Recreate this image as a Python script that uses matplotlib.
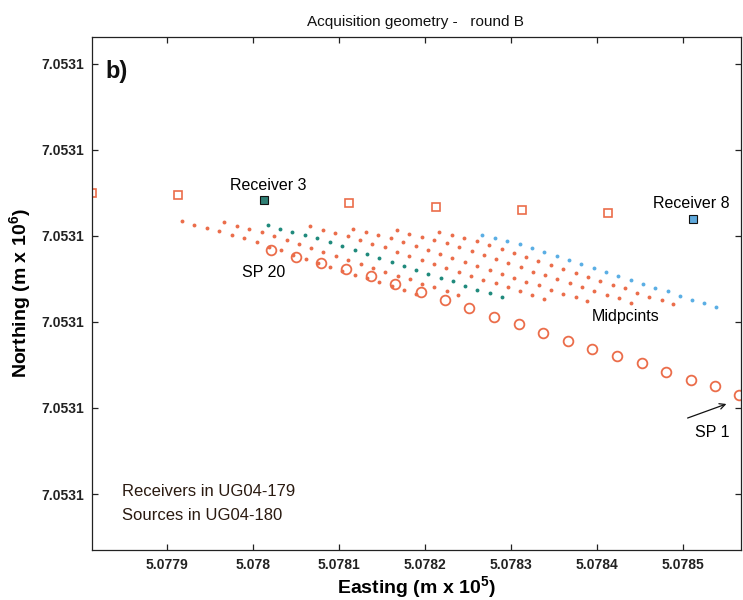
import matplotlib
matplotlib.use("Agg")
import matplotlib.pyplot as plt
import numpy as np

plt.rcParams['font.family'] = ['Liberation Sans', 'DejaVu Sans']
plt.rcParams['mathtext.default'] = 'regular'

# Receivers 1..8 (Easting m x 1e5, Northing m x 1e6)
rec_x = [5.0778135, 5.0779127, 5.0780129, 5.0781120, 5.0782123, 5.0783129, 5.0784121, 5.0785115]
rec_y = [7.0531350, 7.0531347, 7.0531342, 7.0531338, 7.0531333, 7.0531330, 7.0531326, 7.0531319]

# Shot points SP1..SP20
src_x = [5.0785646, 5.0785371, 5.0785088, 5.0784798, 5.0784516, 5.0784232, 5.0783942,
         5.0783663, 5.0783373, 5.0783091, 5.0782804, 5.0782510, 5.0782231, 5.0781949,
         5.0781654, 5.0781368, 5.0781078, 5.0780788, 5.0780501, 5.0780210]
src_y = [7.0531115, 7.0531125, 7.0531133, 7.0531142, 7.0531152, 7.0531160, 7.0531169,
         7.0531178, 7.0531187, 7.0531197, 7.0531206, 7.0531216, 7.0531225, 7.0531235,
         7.0531244, 7.0531253, 7.0531261, 7.0531268, 7.0531275, 7.0531284]

xticks = [5.0779, 5.0780, 5.0781, 5.0782, 5.0783, 5.0784, 5.0785]
xtick_labels = ['5.0779', '5.078', '5.0781', '5.0782', '5.0783', '5.0784', '5.0785']
yticks = [7.05310, 7.05311, 7.05312, 7.05313, 7.05314, 7.05315]
ytick_labels = ['7.0531'] * 6

ORANGE = '#EB6D4A'
TEAL = '#1F8A7C'
BLUE = '#5AAEE4'

fig = plt.figure(figsize=(7.43, 6.0), dpi=100)
ax = fig.add_axes([92/743, 50/600, 649/743, 513/600])

rx = np.array(rec_x); ry = np.array(rec_y)
sx = np.array(src_x); sy = np.array(src_y)

# common midpoints between each receiver and each shot
for i in range(len(rx)):
    mx = (rx[i] + sx) / 2.0
    my = (ry[i] + sy) / 2.0
    col = TEAL if i == 2 else (BLUE if i == 7 else ORANGE)
    ax.plot(mx, my, linestyle='none', marker='o', markersize=2.8,
            markerfacecolor=col, markeredgecolor=col, markeredgewidth=0)

# receivers
for i in range(len(rx)):
    if i == 2:
        ax.plot(rx[i], ry[i], 's', markersize=5.6, markerfacecolor='#2F7F74',
                markeredgecolor='#111111', markeredgewidth=0.8)
    elif i == 7:
        ax.plot(rx[i], ry[i], 's', markersize=5.6, markerfacecolor='#5FA9DC',
                markeredgecolor='#111111', markeredgewidth=0.8)
    else:
        ax.plot(rx[i], ry[i], 's', markersize=5.8, markerfacecolor='none',
                markeredgecolor=ORANGE, markeredgewidth=1.2)

# sources
ax.plot(sx, sy, 'o', linestyle='none', markersize=7.0, markerfacecolor='none',
        markeredgecolor=ORANGE, markeredgewidth=1.3)

ax.set_xlim(5.0778131, 5.0785669)
ax.set_ylim(7.0530935, 7.0531531)
ax.set_xticks(xticks)
ax.set_xticklabels(xtick_labels)
ax.set_yticks(yticks)
ax.set_yticklabels(ytick_labels)
ax.tick_params(direction='in', length=4.5, width=0.9, top=True, right=True,
               labelsize=10, colors='#222222', pad=6)
for lab in ax.get_xticklabels() + ax.get_yticklabels():
    lab.set_fontweight('bold')
for sp in ax.spines.values():
    sp.set_linewidth(0.9)
    sp.set_color('#222222')

ax.set_xlabel(r'Easting (m x 10$^5$)', fontsize=14, fontweight='bold', labelpad=1)
ax.set_ylabel(r'Northing (m x 10$^6$)', fontsize=14, fontweight='bold', labelpad=6)

fig.text(415/743, 1 - 21.7/600, 'Acquisition geometry -   round B', ha='center',
         va='center', fontsize=11, color='#111111')

T = ax.transAxes
ax.text(0.020, 0.9337, 'b)', transform=T, fontsize=17, fontweight='bold',
        ha='left', va='center', color='#111111')
ax.text(0.2712, 0.7096, 'Receiver 3', transform=T, fontsize=11.5, ha='center', va='center')
ax.text(0.9230, 0.6745, 'Receiver 8', transform=T, fontsize=11.5, ha='center', va='center')
ax.text(0.2650, 0.5400, 'SP 20', transform=T, fontsize=11.5, ha='center', va='center')
ax.text(0.8228, 0.4542, 'Midpcints', transform=T, fontsize=11.5, ha='center', va='center')
ax.text(0.9553, 0.2300, 'SP 1', transform=T, fontsize=11.5, ha='center', va='center')
ax.annotate('', xy=(0.9815, 0.2865), xycoords=T, xytext=(0.9137, 0.2554), textcoords=T,
            arrowprops=dict(arrowstyle='->', color='#111111', lw=0.9))
ax.text(0.0462, 0.1131, 'Receivers in UG04-179', transform=T, fontsize=12,
        ha='left', va='center', color='#2a1a10')
ax.text(0.0462, 0.0682, 'Sources in UG04-180', transform=T, fontsize=12,
        ha='left', va='center', color='#2a1a10')

fig.savefig('out.png', dpi=100)
